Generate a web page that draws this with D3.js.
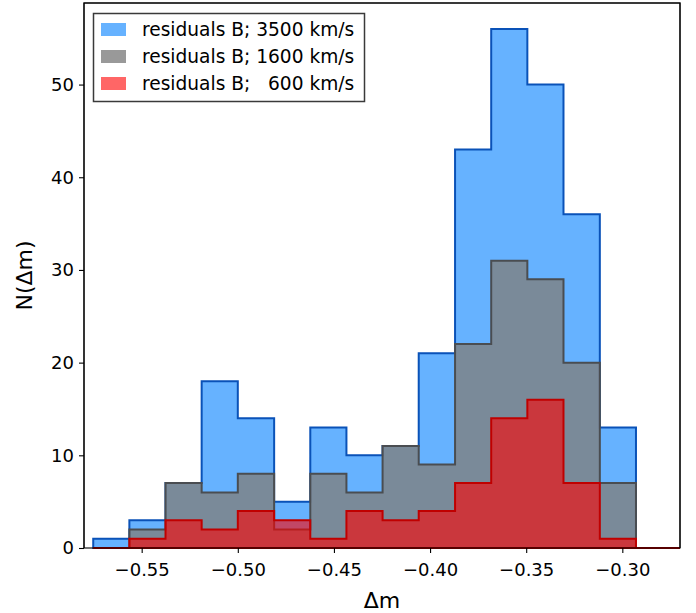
<!DOCTYPE html>
<html>
<head>
<meta charset="utf-8">
<script src="https://cdn.jsdelivr.net/npm/d3@7"></script>
<style>
  body { margin: 0; background: #fff; }
  svg { display: block; font-family: "DejaVu Sans", sans-serif; }
</style>
</head>
<body>
<svg id="chart" width="696" height="613"></svg>
<script>
// ---- data ----
const binEdges = [-0.5752, -0.5564, -0.5376, -0.5188, -0.5000, -0.4811, -0.4623, -0.4435,
                  -0.4247, -0.4059, -0.3870, -0.3682, -0.3494, -0.3306, -0.3117, -0.2929,
                  -0.2741, -0.2553];
const seriesNames = ["residuals B; 3500 km/s", "residuals B; 1600 km/s", "residuals B;   600 km/s"];
const counts3500 = [1, 3, 7, 18, 14, 5, 13, 10, 11, 21, 43, 56, 50, 36, 13];
const counts1600 = [0, 2, 7, 6, 8, 2, 8, 6, 11, 9, 22, 31, 29, 20, 7];
const counts600  = [0, 1, 3, 2, 4, 3, 1, 4, 3, 4, 7, 14, 16, 7, 1, 0, 0];
const xTicks = [-0.55, -0.50, -0.45, -0.40, -0.35, -0.30];
const yTicks = [0, 10, 20, 30, 40, 50];

const series = [
  { name: seriesNames[0], counts: counts3500, fill: "#007fff", fillOpacity: 0.6, stroke: "#0a52b8" },
  { name: seriesNames[1], counts: counts1600, fill: "#808080", fillOpacity: 0.8, stroke: "#4a4d51" },
  { name: seriesNames[2], counts: counts600,  fill: "#ff0000", fillOpacity: 0.6, stroke: "#c00000" }
];

// ---- layout ----
const svg = d3.select("#chart");
const m = { left: 84, right: 680, top: 3, bottom: 548 };
const x = d3.scaleLinear().domain([-0.58, -0.27]).range([m.left, m.right]);
const y = d3.scaleLinear().domain([0, 58.8]).range([m.bottom, m.top]);

svg.append("defs").append("clipPath").attr("id", "clip")
  .append("rect").attr("x", m.left).attr("y", m.top)
  .attr("width", m.right - m.left).attr("height", m.bottom - m.top + 2);

const g = svg.append("g").attr("clip-path", "url(#clip)");

function stepPath(counts) {
  const p = d3.path();
  p.moveTo(x(binEdges[0]), y(0));
  counts.forEach((c, i) => {
    p.lineTo(x(binEdges[i]), y(c));
    p.lineTo(x(binEdges[i + 1]), y(c));
  });
  p.lineTo(x(binEdges[counts.length]), y(0));
  p.closePath();
  return p.toString();
}

// frame (drawn under the histogram edges so the red baseline shows like the reference)
const frame = svg.append("rect")
  .attr("x", m.left).attr("y", m.top)
  .attr("width", m.right - m.left).attr("height", m.bottom - m.top)
  .attr("fill", "none").attr("stroke", "#000").attr("stroke-width", 1.1);

series.forEach(s => {
  g.append("path")
    .attr("d", stepPath(s.counts))
    .attr("fill", s.fill)
    .attr("fill-opacity", s.fillOpacity)
    .attr("stroke", s.stroke)
    .attr("stroke-width", 2)
    .attr("stroke-linejoin", "miter");
});

// frame top/left/right re-drawn above
svg.append("path")
  .attr("d", `M${m.left},${m.bottom}V${m.top}H${m.right}V${m.bottom}`)
  .attr("fill", "none").attr("stroke", "#000").attr("stroke-width", 1.1);

// ---- axes ----
const xAxis = d3.axisBottom(x).tickValues(xTicks).tickSize(5).tickPadding(10)
  .tickFormat(d => d3.format(".2f")(d).replace("-", "\u2212"));
const yAxis = d3.axisLeft(y).tickValues(yTicks).tickSize(5).tickPadding(5)
  .tickFormat(d3.format("d"));

const gx = svg.append("g").attr("transform", `translate(0,${m.bottom})`).call(xAxis);
const gy = svg.append("g").attr("transform", `translate(${m.left},0)`).call(yAxis);
[gx, gy].forEach(a => {
  a.select(".domain").remove();
  a.selectAll(".tick line").attr("stroke", "#000").attr("stroke-width", 1.1);
  a.selectAll(".tick text").attr("fill", "#000").style("font-size", "18px")
    .style("font-family", "'DejaVu Sans', sans-serif");
});
gx.selectAll(".tick line").attr("y1", 0);

// axis labels
svg.append("text").attr("x", (m.left + m.right) / 2).attr("y", 608)
  .attr("text-anchor", "middle").style("font-size", "22px").text("Δm");
svg.append("text")
  .attr("transform", `translate(32,${(m.top + m.bottom) / 2}) rotate(-90)`)
  .attr("text-anchor", "middle").style("font-size", "22px").text("N(Δm)");

// ---- legend ----
const lg = svg.append("g");
lg.append("rect").attr("x", 93.5).attr("y", 13.5).attr("width", 271).attr("height", 88)
  .attr("fill", "#fff").attr("fill-opacity", 0.8)
  .attr("stroke", "#3a3a3a").attr("stroke-width", 1.5);
series.forEach((s, i) => {
  const cy = 29.5 + i * 27;
  lg.append("rect").attr("x", 101).attr("y", cy - 6.5).attr("width", 25).attr("height", 13)
    .attr("fill", s.fill).attr("fill-opacity", s.fillOpacity);
  lg.append("text").attr("x", 142).attr("y", cy + 6.3)
    .style("font-size", "18.6px").style("white-space", "pre")
    .attr("xml:space", "preserve").text(s.name);
});
</script>
</body>
</html>
